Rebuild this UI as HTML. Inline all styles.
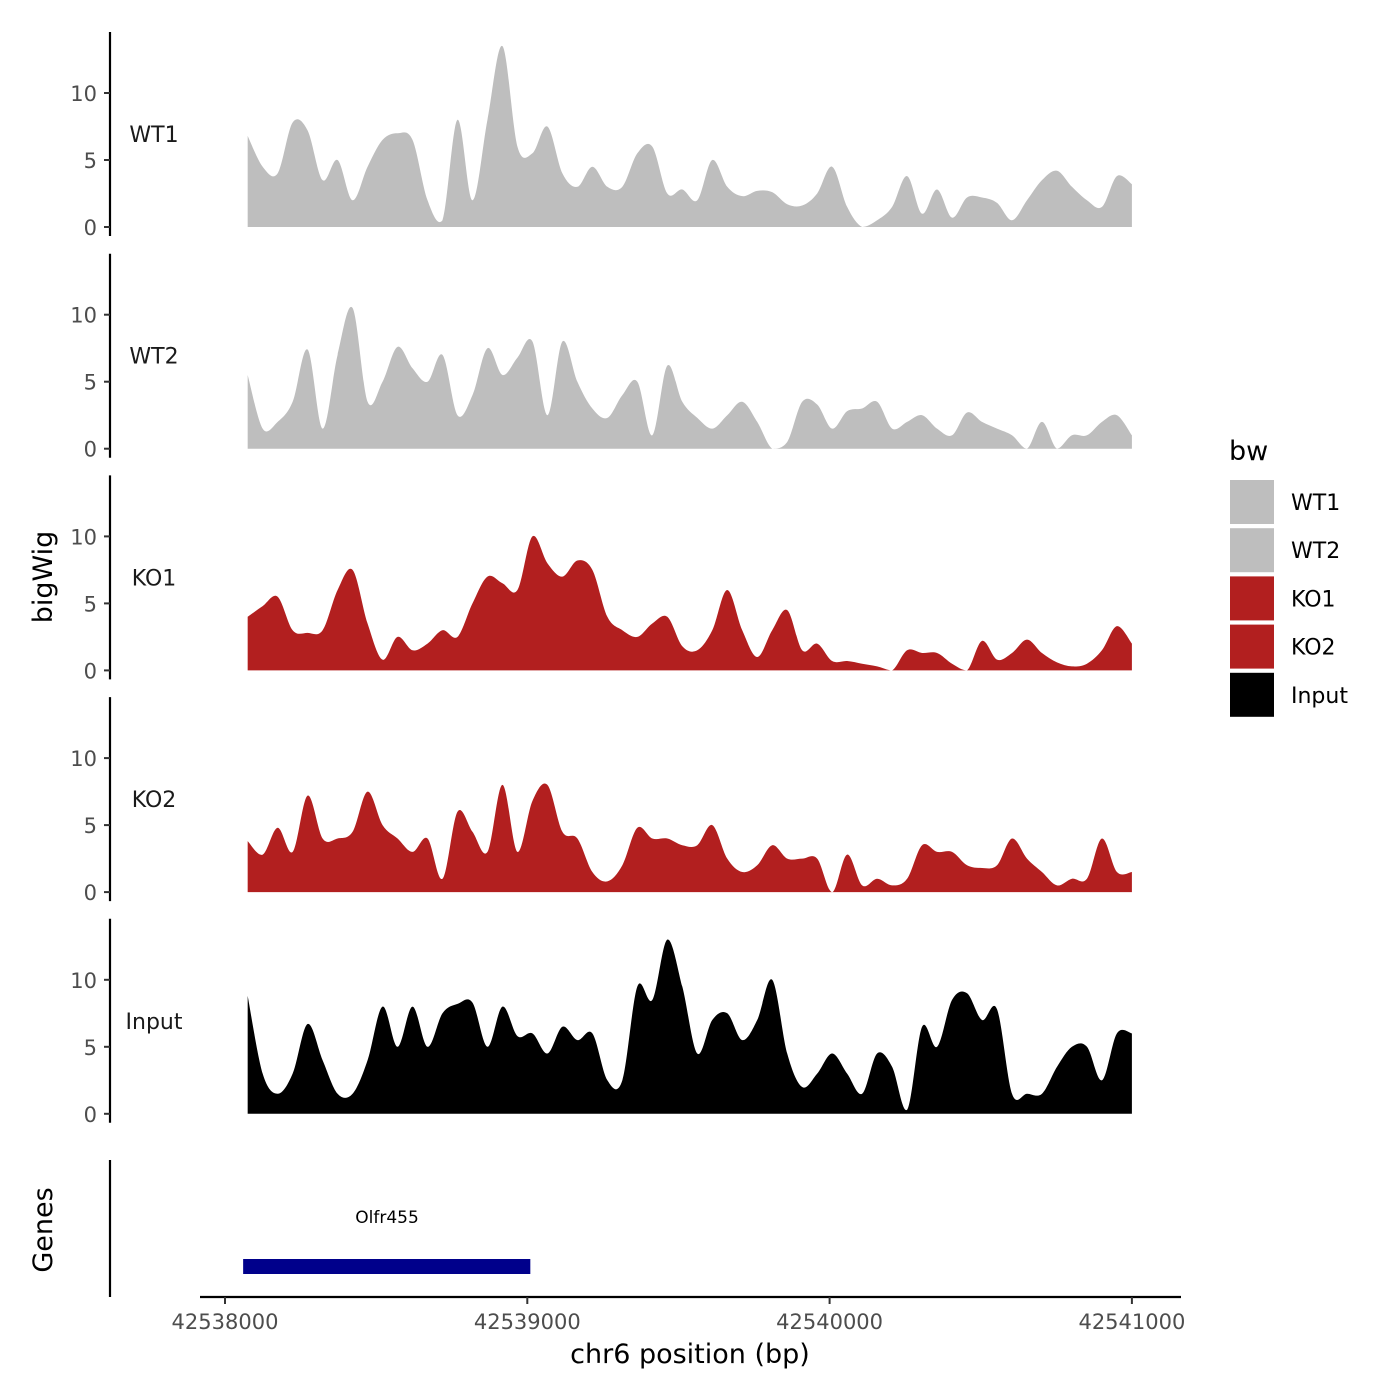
<!DOCTYPE html>
<html><head><meta charset="utf-8"><style>
body{margin:0;background:#fff}
svg{display:block;font-family:"DejaVu Sans","Liberation Sans",sans-serif}
</style></head><body>
<svg id="chart" width="1400" height="1400" viewBox="0 0 1400 1400"></svg>
<script>
const samples = ["WT1","WT2","KO1","KO2","Input"];
const colors = ["#bebebe","#bebebe","#b21f1f","#b21f1f","#000000"];
const startBp = 42538075, endBp = 42541000;
const wt1 = [6.8,4.5,4,7.8,7.2,3.5,5,2,4.5,6.5,7,6.5,2,0.5,8,2,8,13.5,6,5.5,7.5,4,3,4.5,3,3,5.5,6,2.5,2.8,2,5,3,2.3,2.7,2.6,1.7,1.6,2.5,4.5,1.5,0,0.5,1.5,3.8,1,2.8,0.7,2.2,2.2,1.8,0.5,2,3.5,4.2,3,2,1.5,3.8,3.2];
const wt2 = [5.5,1.5,2,3.5,7.4,1.5,7,10.5,3.5,5,7.6,6,5,7,2.5,4,7.5,5.5,6.8,8,2.5,8,5,3,2.3,4,5,1,6.2,3.5,2.3,1.5,2.5,3.5,2,0,0.5,3.5,3.3,1.5,2.8,3,3.5,1.5,2,2.5,1.5,1,2.7,2,1.5,1,0,2,0,1,1,2,2.5,1];
const ko1 = [4,4.8,5.5,3,2.8,3,6,7.5,3.5,0.8,2.5,1.5,2,3,2.5,5,7,6.5,6,10,8,7,8.2,7.5,4,3,2.5,3.5,4,1.8,1.5,3,6,3,1,3,4.5,1.5,2,0.7,0.7,0.5,0.3,0,1.5,1.3,1.3,0.5,0,2.2,0.8,1.3,2.3,1.3,0.6,0.3,0.5,1.5,3.3,2];
const ko2 = [3.8,2.8,4.8,3,7.2,4,4,4.5,7.5,5,4,3,4,1,6,4.5,3,8,3,6.8,8,4.5,4,1.5,0.8,2,4.8,4,4,3.5,3.5,5,2.5,1.5,2,3.5,2.5,2.5,2.5,0,2.8,0.5,1,0.5,1,3.5,3,3,2,1.8,2,4,2.5,1.5,0.5,1,1,4,1.5,1.5];
const input = [8.8,3,1.5,3,6.7,4,1.5,1.5,4,8,5,8,5,7.5,8.2,8.3,5,8,5.8,6,4.5,6.5,5.5,6,2.5,2.5,9.5,8.5,13,9.5,4.5,7,7.5,5.5,7,10,4.5,2,3,4.5,3,1.5,4.5,3.5,0.3,6.5,5,8.5,9,7,7.8,1.5,1.5,1.5,3.5,5,5,2.5,6,6];
const series = [wt1,wt2,ko1,ko2,input];
const yTicks = [0,5,10];
const xTicks = [42538000,42539000,42540000,42541000];
const xTickLabels = ["42538000","42539000","42540000","42541000"];

const svg = document.getElementById('chart');
const NS = "http://www.w3.org/2000/svg";
function mk(tag, attrs, parent){const e=document.createElementNS(NS,tag);for(const k in attrs)e.setAttribute(k,attrs[k]);(parent||svg).appendChild(e);return e;}
const xScale = bp => 225 + (bp-42538000)*0.3023;
const baseY = i => 227 + i*221.7;
const yScale = (i,v) => baseY(i) - v*13.4;

samples.forEach((name,si)=>{
  const vals = series[si];
  const n = vals.length;
  const pts = vals.map((v,k)=>[xScale(startBp + k*(endBp-startBp)/(n-1)), yScale(si,v)]);
  const b = baseY(si);
  let d = `M${pts[0][0]},${b} L${pts[0][0]},${pts[0][1]}`;
  for(let k=0;k<n-1;k++){
    const p0=pts[Math.max(k-1,0)],p1=pts[k],p2=pts[k+1],p3=pts[Math.min(k+2,n-1)];
    const c1=[p1[0]+(p2[0]-p0[0])/6, Math.min(b,p1[1]+(p2[1]-p0[1])/6)];
    const c2=[p2[0]-(p3[0]-p1[0])/6, Math.min(b,p2[1]-(p3[1]-p1[1])/6)];
    d+=` C${c1[0]},${c1[1]} ${c2[0]},${c2[1]} ${p2[0]},${p2[1]}`;
  }
  d+=` L${pts[n-1][0]},${b} Z`;
  const area = mk('path',{d:d,fill:colors[si]});
  
  
  const ax = mk('line',{x1:110,x2:110,y1:b-195,y2:b+9,stroke:'#000','stroke-width':2.2});
  
  
  yTicks.forEach(t=>{
    const y=yScale(si,t);
    const tk = mk('line',{x1:104,x2:110,y1:y,y2:y,stroke:'#333','stroke-width':2});
    
    
    const tl = mk('text',{x:97,y:y+8,'text-anchor':'end','font-size':21,fill:'#4d4d4d'});
    tl.textContent=t;
    
    
  });
  const lab = mk('text',{x:154,y:b-85,'text-anchor':'middle','font-size':22,fill:'#1a1a1a'});
  lab.textContent=name;
  
  
});
</script>
<svg width="0" height="0"></svg>
<script>
(function(){
const svg=document.getElementById('chart');
const NS="http://www.w3.org/2000/svg";
function mk(tag,attrs){const e=document.createElementNS(NS,tag);for(const k in attrs)e.setAttribute(k,attrs[k]);svg.appendChild(e);return e;}
const xScale = bp => 225 + (bp-42538000)*0.3023;
let e;
e=mk('line',{x1:110,x2:110,y1:1160,y2:1297,stroke:'#000','stroke-width':2.2});


e=mk('line',{x1:200,x2:1181,y1:1297,y2:1297,stroke:'#000','stroke-width':2.2});


xTicks.forEach((t,i)=>{
  const x=xScale(t);
  let l=mk('line',{x1:x,x2:x,y1:1297,y2:1304,stroke:'#333','stroke-width':2});
  
  
  let tx=mk('text',{x:x,y:1329,'text-anchor':'middle','font-size':21,fill:'#4d4d4d'});
  tx.textContent=xTickLabels[i];
  
  
});
e=mk('rect',{x:xScale(42538060),y:1259,width:xScale(42539010)-xScale(42538060),height:15,fill:'#00008b'});


e=mk('text',{x:387,y:1223,'text-anchor':'middle','font-size':17,fill:'#000'});
e.textContent='Olfr455';


e=mk('text',{x:690,y:1363,'text-anchor':'middle','font-size':27,fill:'#000'});
e.textContent='chr6 position (bp)';


e=mk('text',{x:52,y:577,'text-anchor':'middle','font-size':27,fill:'#000',transform:'rotate(-90 52 577)'});
e.textContent='bigWig';


e=mk('text',{x:52,y:1230,'text-anchor':'middle','font-size':27,fill:'#000',transform:'rotate(-90 52 1230)'});
e.textContent='Genes';


e=mk('text',{x:1229,y:460,'font-size':27,fill:'#000'});
e.textContent='bw';


samples.forEach((s,i)=>{
  const y=480+i*48.2;
  let r=mk('rect',{x:1230,y:y,width:44,height:44,fill:colors[i]});
  
  
  let t=mk('text',{x:1291,y:y+30,'font-size':22,fill:'#000'});
  t.textContent=s;
  
  
});
})();
</script>
</body></html>
